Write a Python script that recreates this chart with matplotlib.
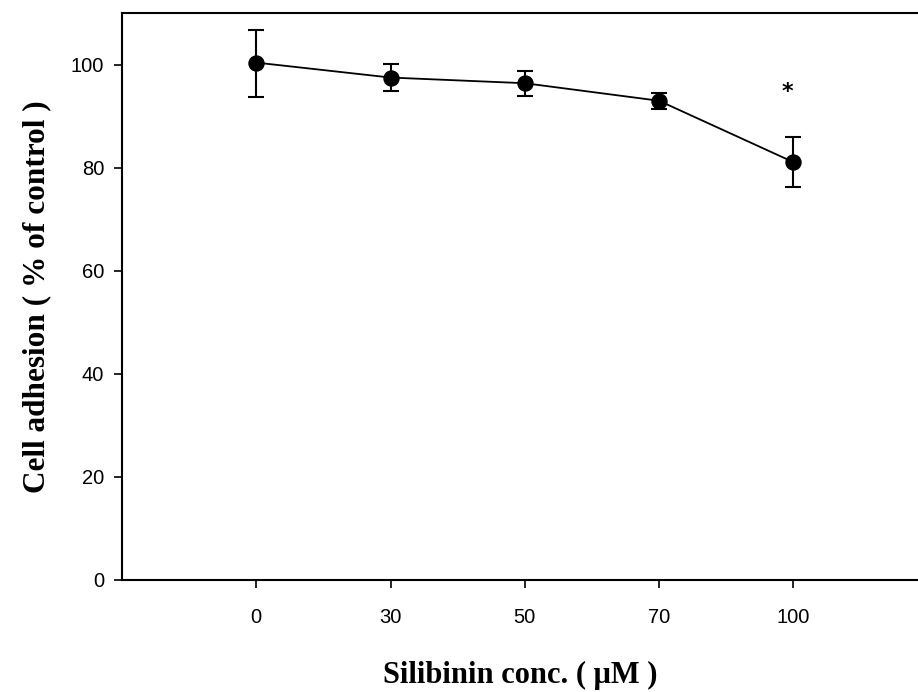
import numpy as np
import matplotlib
matplotlib.use("Agg")
import matplotlib.pyplot as plt

conc_labels = ["0", "30", "50", "70", "100"]
adhesion = [100.4, 97.5, 96.4, 93.0, 81.1]
err_low = [6.6, 2.6, 2.5, 1.7, 4.8]
err_high = [6.4, 2.7, 2.4, 1.5, 4.9]
sig_value = 94.6

x = np.arange(len(conc_labels))

fig = plt.figure(figsize=(9.18, 6.92), dpi=100)
ax = fig.add_axes([0.133, 0.162, 0.867, 0.819])

ax.errorbar(x, adhesion, yerr=[err_low, err_high], color="black", lw=1.3,
            marker="o", markersize=10.8, capsize=6, elinewidth=1.5, capthick=1.5)
ax.text(x[-1] - 0.04, sig_value, "*", ha="center", va="center",
        fontsize=16, fontweight="bold", family="DejaVu Sans")

ax.set_xlim(-1.0, 4.93)
ax.set_ylim(0, 110)
ax.set_xticks(x)
ax.set_xticklabels(conc_labels)
ax.set_yticks([0, 20, 40, 60, 80, 100])
ax.tick_params(axis="both", direction="out", length=6, width=1.2,
               labelsize=14.5, pad=14)
ax.tick_params(axis="y", pad=7)
for lab in ax.get_xticklabels() + ax.get_yticklabels():
    lab.set_family("Liberation Sans")

ax.spines["right"].set_visible(False)
for s in ["left", "bottom", "top"]:
    ax.spines[s].set_linewidth(1.5)

ax.set_xlabel("Silibinin conc. ( \u03bcM )", family="Liberation Serif",
              fontweight="bold", fontsize=22, labelpad=25)
ax.set_ylabel("Cell adhesion ( % of control )", family="Liberation Serif",
              fontweight="bold", fontsize=22.5, labelpad=14)

fig.savefig("out.png", dpi=100)
